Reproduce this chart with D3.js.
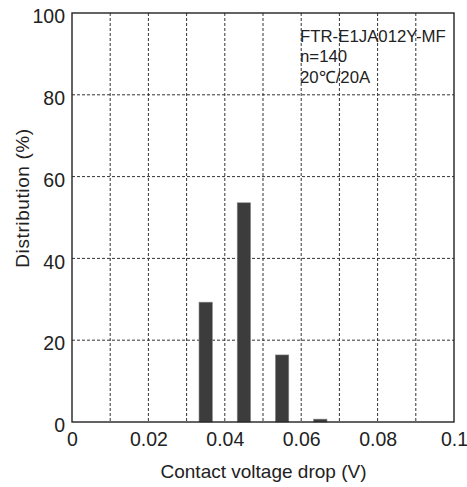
<!DOCTYPE html>
<html><head><meta charset="utf-8">
<script src="https://cdn.jsdelivr.net/npm/d3@7"></script>
<style>
html,body{margin:0;padding:0;background:#fff;}
svg{display:block;font-family:"Liberation Sans",Arial,sans-serif;}
</style></head>
<body>
<svg id="c" width="467" height="487"></svg>
<script>
const binCenters = [0.035, 0.045, 0.055, 0.065];
const distribution = [29.3, 53.6, 16.4, 0.7];
const xTicks = [0, 0.02, 0.04, 0.06, 0.08, 0.1];
const yTicks = [0, 20, 40, 60, 80, 100];
const xGrid = [0.01,0.02,0.03,0.04,0.05,0.06,0.07,0.08,0.09];
const yGrid = [20, 40, 60, 80];
const noteLines = ["FTR-E1JA012Y-MF", "n=140", "20\u2103/20A"];
const xTitle = "Contact voltage drop (V)";
const yTitle = "Distribution (%)";
const barWidth = 0.0035;

const svg = d3.select("#c");
const L = 72, R = 454, T = 13, B = 422;
const x = d3.scaleLinear().domain([0, 0.1]).range([L, R]);
const y = d3.scaleLinear().domain([0, 100]).range([B, T]);

// grid
svg.append("g").selectAll("line").data(xGrid).join("line")
  .attr("x1", d => x(d)).attr("x2", d => x(d)).attr("y1", T).attr("y2", B)
  .attr("stroke", "#333").attr("stroke-width", 1).attr("stroke-dasharray", "3,2");
svg.append("g").selectAll("line").data(yGrid).join("line")
  .attr("y1", d => y(d)).attr("y2", d => y(d)).attr("x1", L).attr("x2", R)
  .attr("stroke", "#333").attr("stroke-width", 1).attr("stroke-dasharray", "3,2");

// bars
svg.append("g").selectAll("rect").data(binCenters).join("rect")
  .attr("x", d => x(d - barWidth / 2))
  .attr("width", d => x(d + barWidth / 2) - x(d - barWidth / 2))
  .attr("y", (d, i) => y(distribution[i]))
  .attr("height", (d, i) => y(0) - y(distribution[i]))
  .attr("fill", "#3c3c3c").attr("stroke", "#888").attr("stroke-width", 0.6);

// frame
svg.append("rect").attr("x", L).attr("y", T).attr("width", R - L).attr("height", B - T)
  .attr("fill", "none").attr("stroke", "#222").attr("stroke-width", 1.4);

const FS = 19.5;
// axes (labels only)
const xAxis = svg.append("g").attr("transform", `translate(0,${B})`)
  .call(d3.axisBottom(x).tickValues(xTicks).tickSize(0).tickPadding(10).tickFormat(d => d3.format("")(+d.toFixed(2))));
xAxis.select(".domain").remove();
xAxis.selectAll("text").attr("font-size", FS).attr("fill", "#222").attr("font-family", "Liberation Sans, Arial, sans-serif");

const yAxis = svg.append("g").attr("transform", `translate(${L},0)`)
  .call(d3.axisLeft(y).tickValues(yTicks).tickSize(0).tickPadding(7));
yAxis.select(".domain").remove();
yAxis.selectAll("text").attr("font-size", FS).attr("fill", "#222").attr("dy", "0.5em").attr("font-family", "Liberation Sans, Arial, sans-serif");

// titles
svg.append("text").attr("x", (L + R) / 2 + 0.5).attr("y", 478).attr("text-anchor", "middle")
  .attr("font-size", 19).attr("fill", "#222").text(xTitle);
svg.append("text").attr("transform", `translate(29,${(128 + 268) / 2}) rotate(-90)`)
  .attr("text-anchor", "middle").attr("font-size", 19).attr("letter-spacing", 0.6).attr("fill", "#222").text(yTitle);

// note
svg.append("g").selectAll("text").data(noteLines).join("text")
  .attr("x", 300).attr("y", (d, i) => 41.5 + i * 20.8)
  .attr("font-size", 16.8).attr("fill", "#222").text(d => d);
</script>
</body></html>
